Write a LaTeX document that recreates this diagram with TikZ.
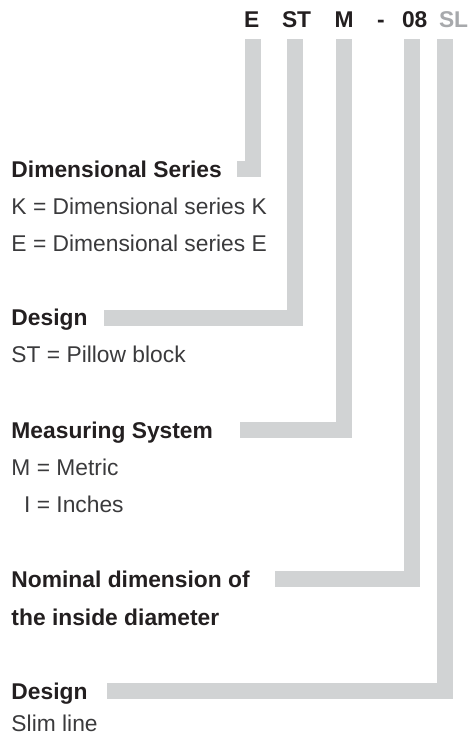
\documentclass[tikz,border=0pt]{standalone}
\usepackage{fontspec}
\setmainfont{Liberation Sans}
\definecolor{bargray}{HTML}{D1D3D4}
\definecolor{txtdark}{HTML}{231F20}
\definecolor{txtreg}{HTML}{3A3A3C}
\definecolor{slgray}{HTML}{A7A9AC}
\begin{document}
\begin{tikzpicture}[x=1pt,y=-1pt,
  every node/.style={inner sep=0pt,outer sep=0pt,anchor=base west},
  codetxt/.style={font=\fontsize{22.8}{26}\selectfont\bfseries,text=txtdark},
  head/.style={font=\fontsize{22.8}{26}\selectfont\bfseries,text=txtdark},
  body/.style={font=\fontsize{22.8}{26}\selectfont,text=txtreg},
  bar/.style={draw=bargray,line width=16pt,line cap=butt,line join=miter}]
\useasboundingbox (0,0) rectangle (473,737);
% code line
\node[codetxt] (cE)  at (244,27) {E};
\node[codetxt] (cST) at (282,27) {ST};
\node[codetxt] (cM)  at (334.5,27) {M};
\node[codetxt] (cD)  at (377,27) {-};
\node[codetxt] (c08) at (402,27) {08};
\node[codetxt,text=slgray] (cSL) at (439,27) {SL};
% labels
\node[head] (hE) at (11.5,177) {Dimensional Series};
\node[body] (bE1) at (11.5,214) {K = Dimensional series K};
\node[body] (bE2) at (11.5,251) {E = Dimensional series E};
\node[head] (hST) at (11.5,325) {Design};
\node[body] (bST) at (11.5,362) {ST = Pillow block};
\node[head] (hM) at (11.5,438) {Measuring System};
\node[body] (bM1) at (11.5,475) {M = Metric};
\node[body] (bM2) at (11.5,512) {\hphantom{M}\llap{I} = Inches};
\node[head] (h08) at (11.5,587) {Nominal dimension of};
\node[head] (h08b) at (11.5,625) {the inside diameter};
\node[head] (hSL) at (11.5,699) {Design};
\node[body] (bSL) at (11.5,731) {Slim line};
% bar end points
\coordinate (tE) at (253,39);   \coordinate (eE) at (237,169);
\coordinate (tST) at (294.5,39); \coordinate (eST) at (104,317.5);
\coordinate (tM) at (344,39);   \coordinate (eM) at (240,430);
\coordinate (t08) at (412,39);  \coordinate (e08) at (275,579);
\coordinate (tSL) at (445,39);  \coordinate (eSL) at (107,691);
\draw[bar] (tE) |- (eE);
\draw[bar] (tST) |- (eST);
\draw[bar] (tM) |- (eM);
\draw[bar] (t08) |- (e08);
\draw[bar] (tSL) |- (eSL);
\end{tikzpicture}
\end{document}
